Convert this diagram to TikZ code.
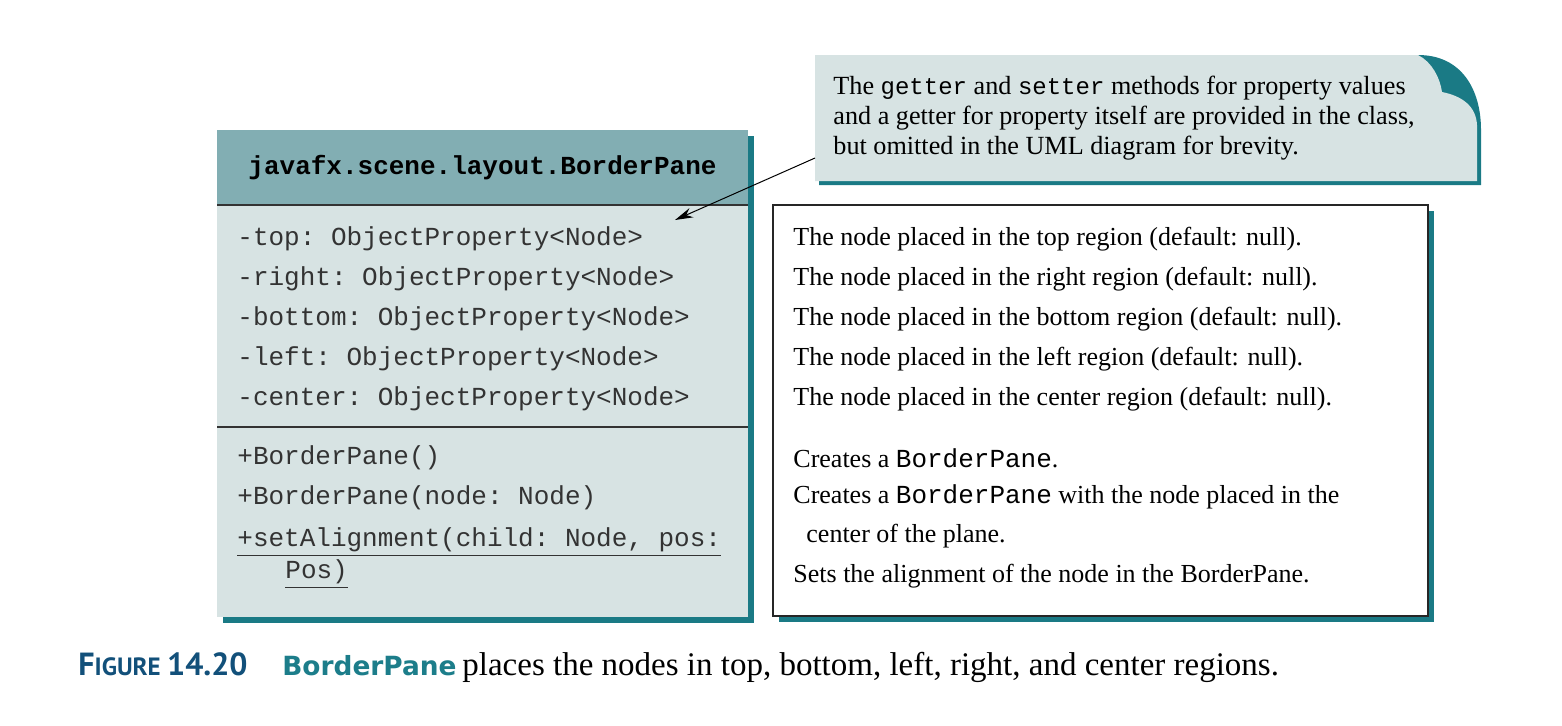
\documentclass[tikz,border=0pt]{standalone}
\usepackage{fontspec}
\setmainfont{Liberation Serif}
\setmonofont{Liberation Mono}
\newfontfamily\capfont{PT Sans}
\newfontfamily\bpfont{DejaVu Sans}
\usetikzlibrary{positioning,arrows.meta}
\definecolor{headfill}{HTML}{82AEB3}
\definecolor{bodyfill}{HTML}{D7E3E3}
\definecolor{shadowteal}{HTML}{1A7A85}
\definecolor{figblue}{HTML}{12507A}
\definecolor{figteal}{HTML}{1C7D8A}
\tikzset{
  member/.style={anchor=west, inner sep=0pt, text=black!80, font=\fontsize{13}{15}\selectfont\ttfamily},
  note/.style={anchor=west, inner sep=0pt, font=\fontsize{13}{15}\selectfont},
  rule/.style={draw=black!80, line width=1pt},
}
\begin{document}
\begin{tikzpicture}[x=0.5pt,y=-0.5pt]
  \useasboundingbox (0,0) rectangle (1562,725);

  % UML class box
  \fill[shadowteal] (223,136) rectangle (754,623);
  \fill[bodyfill] (217,130) rectangle (748,617);
  \fill[headfill] (217,130) rectangle (748,205);
  \node[font=\fontsize{13}{15}\selectfont\ttfamily\bfseries] (cls) at (482.5,168) {javafx.scene.layout.BorderPane};
  \draw[rule] (217,205) -- (748,205);
  \draw[rule] (217,427) -- (748,427);

  \foreach \y/\n/\t in {239/1/top, 279/2/right, 319/3/bottom, 359/4/left, 399/5/center}
    \node[member] (attr\n) at (237,\y) {-\t: ObjectProperty<Node>};

  \node[member] (ctor1) at (237,458) {+BorderPane()};
  \node[member] (ctor2) at (237,498) {+BorderPane(node: Node)};
  \node[member] (align1) at (237,542) {\underline{+setAlignment(child: Node, pos:}};
  \node[member] (align2) at (285,574) {\underline{Pos)}};

  % descriptions
  \fill[shadowteal] (779,211) rectangle (1434,622);
  \filldraw[fill=white, draw=black!85, line width=1pt] (773,205) rectangle (1428,616);

  \foreach \y/\n/\t in {239/1/top, 279/2/right, 319/3/bottom, 359/4/left, 399/5/center}
    \node[note] (desc\n) at (793,\y) {The node placed in the \t\ region (default: null).};

  \node[note] (desc6) at (793,458) {Creates a \texttt{BorderPane}.};
  \node[note] (desc7) at (793,497) {Creates a \texttt{BorderPane} with the node placed in the};
  \node[note] (desc8) at (806,536) {center of the plane.};
  \node[note] (desc9) at (793,576) {Sets the alignment of the node in the BorderPane.};

  % callout
  \fill[shadowteal] (1418,55) .. controls (1462,55) and (1481,90) .. (1481,130) -- (1481,185) -- (819,185) -- (819,170) -- cycle;
  \fill[bodyfill] (815,55) -- (1418,55) .. controls (1432,62) and (1440,78) .. (1442,92)
    .. controls (1462,96) and (1476,106) .. (1477,125) -- (1477,181) -- (815,181) -- cycle;
  \node[anchor=west, inner sep=0pt, align=left, font=\fontsize{13.1}{15}\selectfont] (callout) at (833,118)
    {The {\fontsize{12}{15}\selectfont\texttt{getter}} and {\fontsize{12}{15}\selectfont\texttt{setter}} methods for property values\\
     and a getter for property itself are provided in the class,\\
     but omitted in the UML diagram for brevity.};
  \coordinate (from) at (815,158);
  \coordinate (tip) at (675,220);
  \draw[line width=0.5pt, -{Stealth[length=9pt,width=5pt]}] (from) -- (tip);

  % caption
  \node[anchor=base west, inner sep=0pt, text=figblue, font=\capfont\bfseries] (fig) at (78,675)
    {\fontsize{16}{18}\selectfont F\fontsize{12.5}{18}\selectfont IGURE \fontsize{16}{18}\selectfont 14.20};
  \node[base right=17pt of fig, inner sep=0pt, text=figteal, font=\bpfont\bfseries\fontsize{13.2}{18}\selectfont] (bp) {BorderPane};
  \node[base right=2.5pt of bp, inner sep=0pt, font=\fontsize{16.5}{18}\selectfont] (cap)
    {places the nodes in top, bottom, left, right, and center regions.};
\end{tikzpicture}
\end{document}
